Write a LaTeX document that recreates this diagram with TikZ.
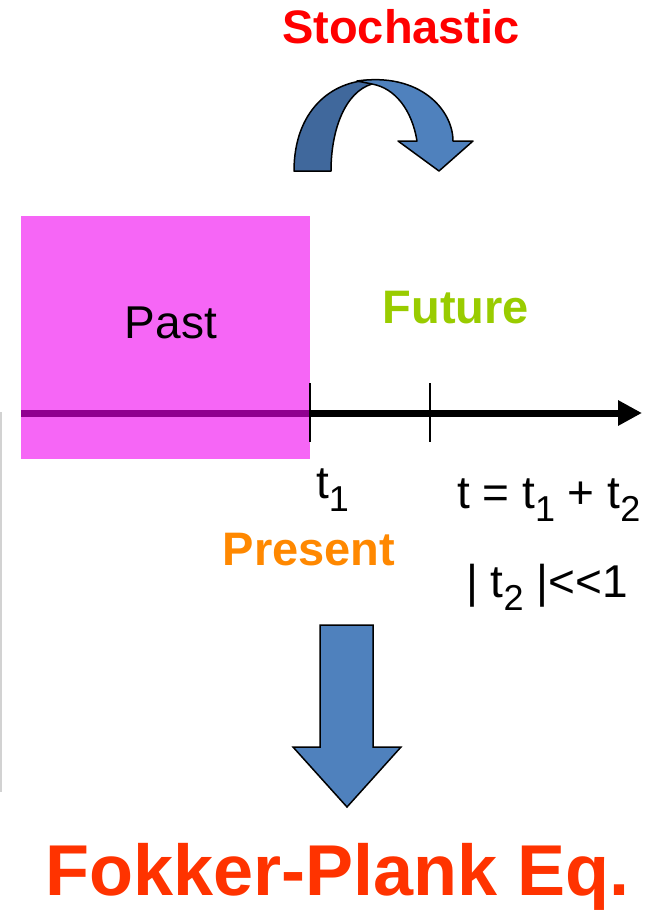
\documentclass[tikz,border=0pt]{standalone}
\usepackage{fontspec}
\setmainfont{Liberation Sans}
\usetikzlibrary{arrows.meta}

\definecolor{pastpink}{RGB}{240,0,240}
\definecolor{arrowblue}{RGB}{79,129,189}
\definecolor{arrowdark}{RGB}{64,104,156}
\definecolor{futuregreen}{RGB}{153,204,0}
\definecolor{presentorange}{RGB}{255,136,0}
\definecolor{fokkerred}{RGB}{255,51,0}

\newcommand{\tsub}[1]{\raisebox{-13pt}{\fontsize{36}{36}\selectfont #1}}

\tikzset{
  txt/.style={font=\fontsize{46}{46}\selectfont, anchor=base, inner sep=0pt},
  boldtxt/.style={font=\fontsize{47}{47}\selectfont\bfseries, anchor=base, inner sep=0pt},
  shape3d/.style={draw=black, line width=1.5pt, line join=round},
}

\begin{document}
\begin{tikzpicture}[x=1pt, y=-1pt]
  \useasboundingbox (0,0) rectangle (653,911);

  % Stochastic jump
  \node[boldtxt, red] (stoch) at (401,43) {Stochastic};
  \fill[arrowdark, shape3d] (294,171) .. controls (294,112) and (330,80) .. (374,80)
    -- (372,84) .. controls (345,92) and (331,130) .. (331,171) -- cycle;
  \fill[arrowblue, shape3d] (357,81) .. controls (420,72) and (453,110) .. (453,141)
    -- (473,141) -- (439,171) -- (398,141) -- (417,141)
    .. controls (412,110) and (395,88) .. (372,84) -- cycle;

  % Time axis
  \coordinate (tstart) at (21,413);
  \coordinate (tend) at (642,413);
  \coordinate (tone) at (310,413);
  \coordinate (ttwo) at (430,413);
  \draw[line width=7pt, -{Triangle[length=24pt, width=24pt]}] (tstart) -- (tend);

  % Past region
  \node[fill=pastpink, fill opacity=0.6, minimum width=289pt, minimum height=243pt,
        inner sep=0pt, anchor=north west] (pastbox) at (21,216) {};
  \node[txt] (past) at (171,338) {Past};
  \node[boldtxt, futuregreen] (future) at (456,323) {Future};

  % Ticks
  \draw[line width=2.5pt] (tone) ++(0,-30) -- ++(0,59);
  \draw[line width=2.5pt] (ttwo) ++(0,-30) -- ++(0,59);

  \node[txt, anchor=base west] (tonelbl) at (316,498) {t\tsub{1}};
  \node[txt, anchor=base west] (tlbl) at (457,508) {t = t\tsub{1} + t\tsub{2}};
  \node[txt, anchor=base west] (small) at (466,597) {| t\tsub{2} |\symbol{60}\symbol{60}1};
  \node[boldtxt, presentorange] (present) at (309,565) {Present};

  % Side rule
  \draw[gray!35, line width=1.5pt] (1,412) -- (1,792);

  % Down arrow
  \fill[arrowblue, shape3d, line join=miter] (320,625) -- (373,625) -- (373,747) -- (401,747)
    -- (347,807) -- (293,747) -- (320,747) -- cycle;

  \node[font=\fontsize{72}{72}\selectfont\bfseries, fokkerred, anchor=base west, inner sep=0pt]
    (fokker) at (45,895) {Fokker-Plank Eq.};
\end{tikzpicture}
\end{document}
